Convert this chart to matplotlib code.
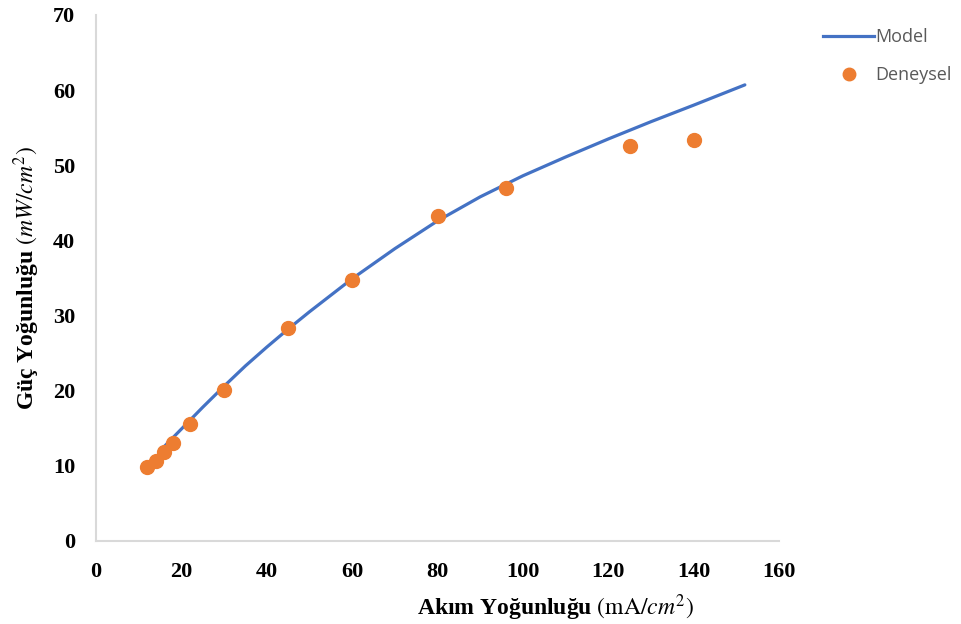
import matplotlib
matplotlib.use("Agg")
import matplotlib.pyplot as plt
from matplotlib.lines import Line2D

# Deneysel (experimental) points
akim_deney = [12, 14, 16, 18, 22, 30, 45, 60, 80, 96, 125, 140]
guc_deney = [9.9, 10.6, 11.9, 13.1, 15.6, 20.1, 28.4, 34.8, 43.2, 47.0, 52.6, 53.3]

# Model curve
akim_model = [15, 20, 25, 30, 35, 40, 45, 50, 60, 70, 80, 90, 100, 110, 120, 130, 140, 152]
guc_model = [12.0, 14.9, 17.8, 20.6, 23.3, 25.8, 28.2, 30.5, 34.9, 38.9, 42.6, 45.8,
             48.6, 51.1, 53.5, 55.8, 58.0, 60.7]

xticks = [0, 20, 40, 60, 80, 100, 120, 140, 160]
yticks = [0, 10, 20, 30, 40, 50, 60, 70]

plt.rcParams['font.family'] = ['Liberation Serif', 'DejaVu Serif']
plt.rcParams['mathtext.fontset'] = 'stix'

fig = plt.figure(figsize=(9.62, 6.24), dpi=100)
ax = fig.add_axes([96 / 962, 83 / 624, 683 / 962, 526 / 624])

ax.plot(akim_model, guc_model, color='#4472C4', linewidth=2.3,
        solid_capstyle='round', solid_joinstyle='round', zorder=2)
ax.plot(akim_deney, guc_deney, linestyle='none', marker='o', markersize=10,
        color='#ED7D31', zorder=3)

ax.set_xlim(0, 160)
ax.set_ylim(0, 70)
ax.set_xticks(xticks)
ax.set_yticks(yticks)
ax.tick_params(length=0, labelsize=16)
ax.tick_params(axis='x', pad=15)
ax.tick_params(axis='y', pad=15)
for lab in ax.get_xticklabels() + ax.get_yticklabels():
    lab.set_fontweight('bold')

for side in ['top', 'right']:
    ax.spines[side].set_visible(False)
for side in ['left', 'bottom']:
    ax.spines[side].set_color('#d9d9d9')
    ax.spines[side].set_linewidth(1.5)

ax.set_xlabel('Akım Yoğunluğu $(\\mathrm{mA}/cm^2)$', fontsize=17, fontweight='bold')
ax.xaxis.set_label_coords((555 - 96) / 683, -0.097)
ax.set_ylabel('Güç Yoğunluğu $(mW/cm^2)$', fontsize=17, fontweight='bold')
ax.yaxis.set_label_coords(-0.079, 0.5)

handles = [
    Line2D([], [], color='#4472C4', linewidth=2.3),
    Line2D([], [], linestyle='none', marker='o', markersize=9, color='#ED7D31'),
]
leg = fig.legend(handles, ['Model', 'Deneysel'], loc='upper left',
                 bbox_to_anchor=(807 / 962, 1 - 12 / 624), frameon=False,
                 prop={'family': 'Open Sans', 'size': 13},
                 handlelength=2.8, handletextpad=0.1, labelspacing=1.1,
                 labelcolor='#595959')

fig.savefig('out.png', dpi=100)
